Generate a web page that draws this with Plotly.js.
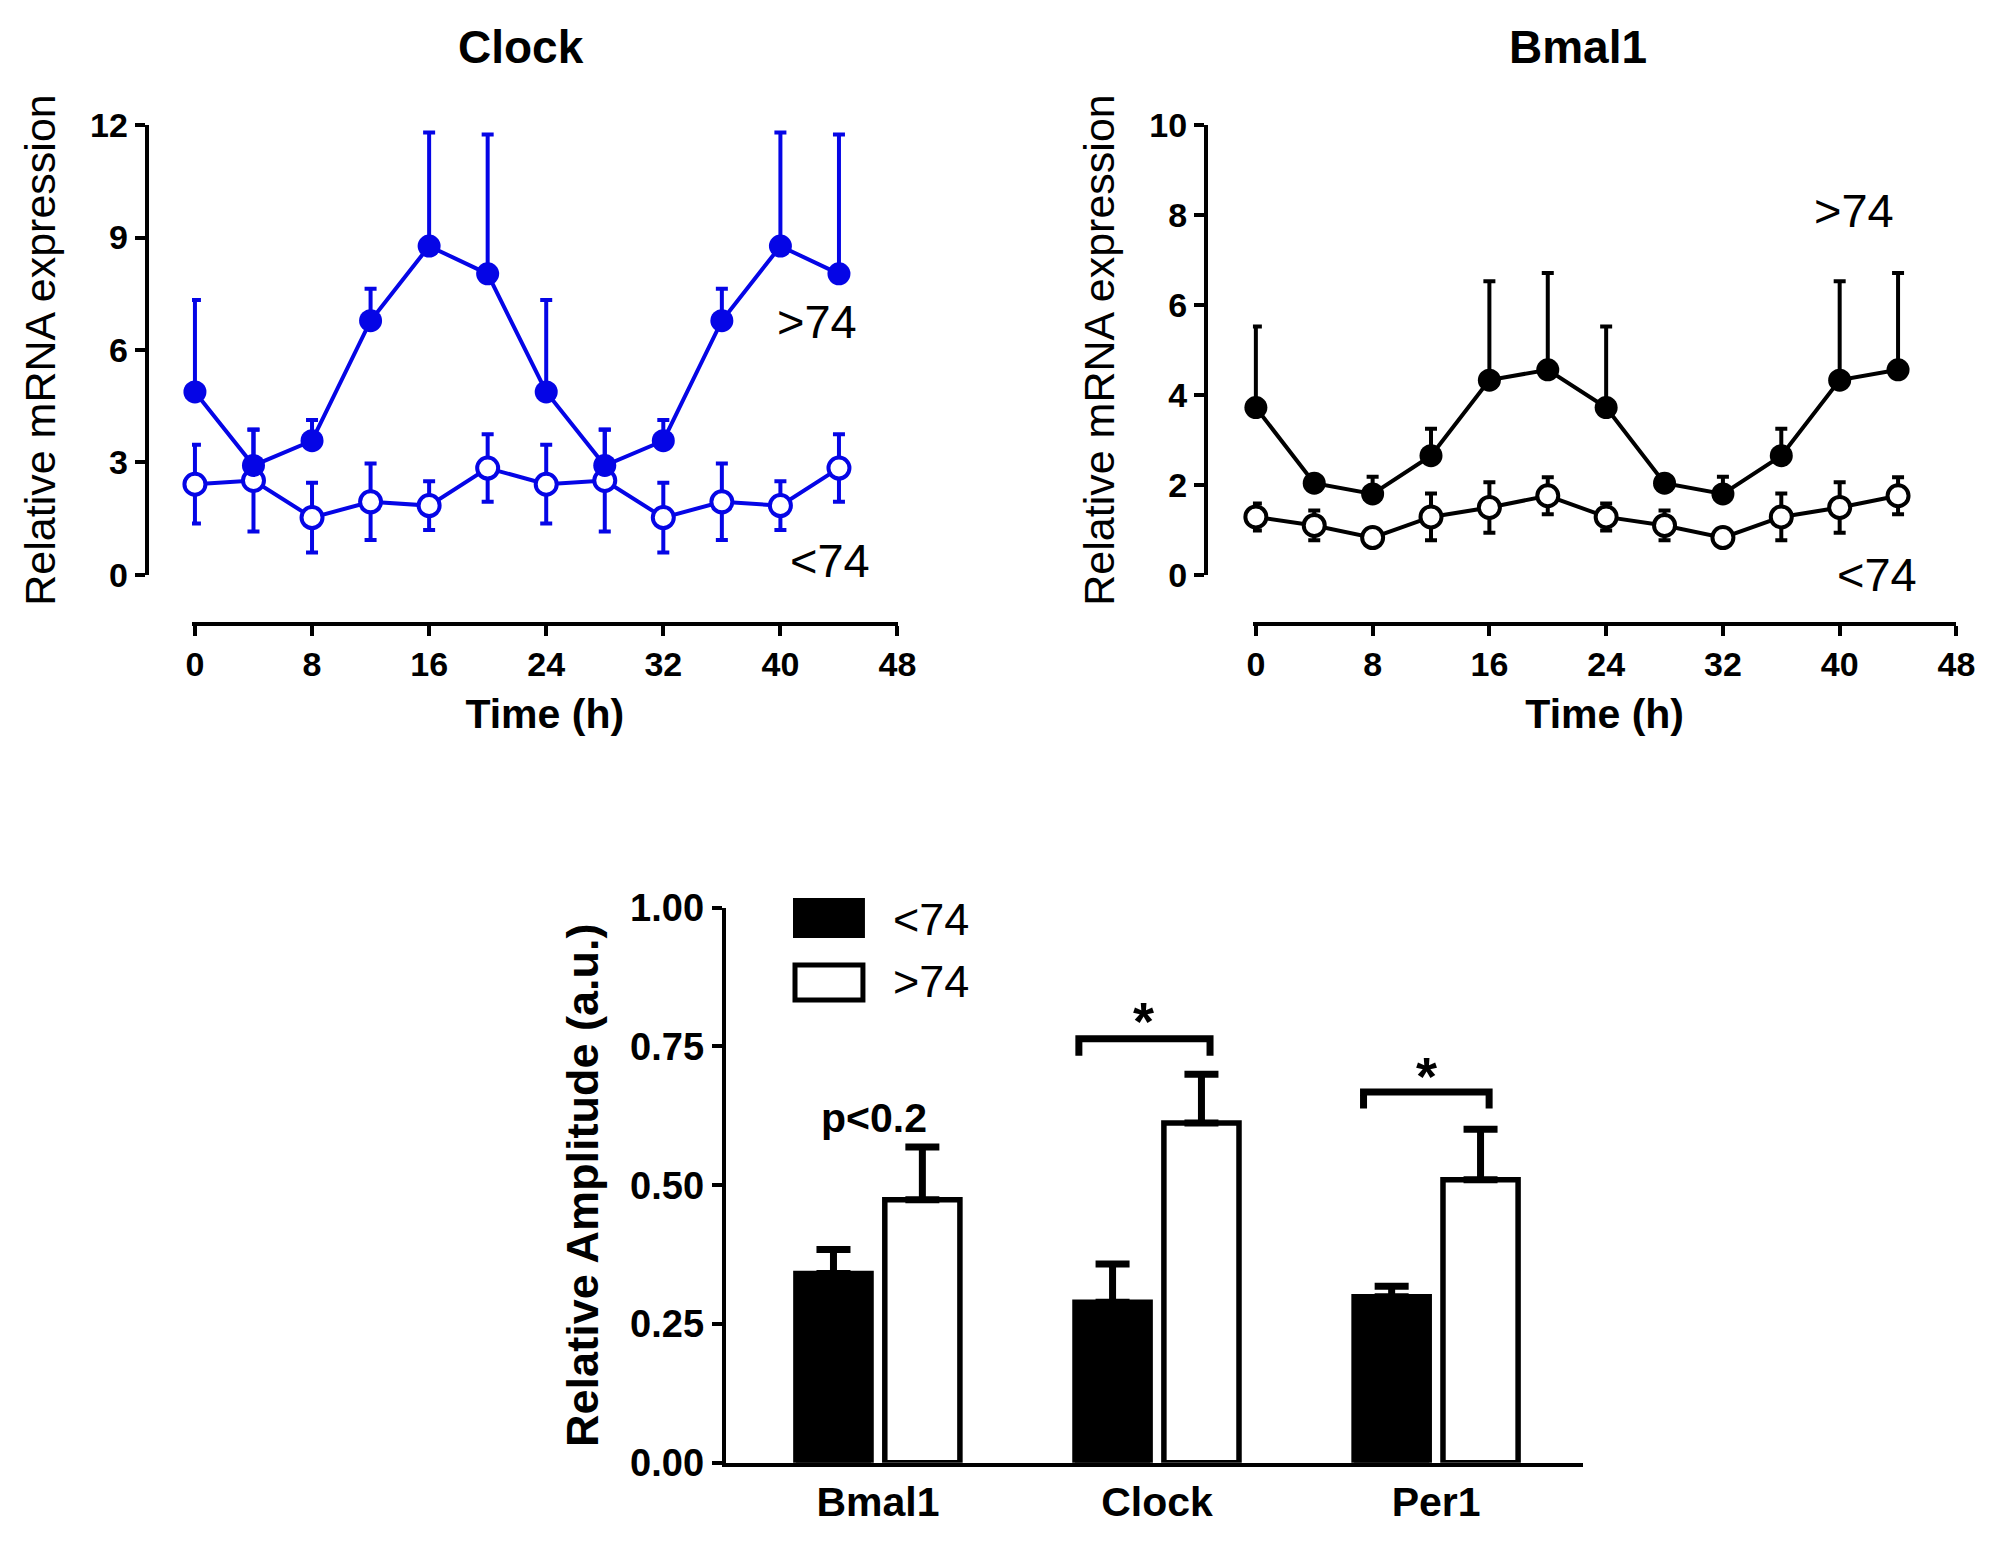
<!DOCTYPE html>
<html>
<head>
<meta charset="utf-8">
<script src="https://cdn.plot.ly/plotly-3.0.1.min.js"></script>
<style>
  html, body { margin: 0; padding: 0; background: #fff; }
  #graph { width: 1998px; height: 1551px; }
</style>
</head>
<body>
<div id="graph"></div>
<script>
// time points (h)
let hours = [0, 4, 8, 12, 16, 20, 24, 28, 32, 36, 40, 44];

// Clock, relative mRNA expression
let clock_old = [4.88, 2.92, 3.58, 6.78, 8.77, 8.03, 4.88, 2.92, 3.58, 6.78, 8.77, 8.03];
let clock_old_err = [2.45, 0.95, 0.55, 0.85, 3.03, 3.72, 2.45, 0.95, 0.55, 0.85, 3.03, 3.72];
let clock_young = [2.42, 2.52, 1.53, 1.95, 1.85, 2.85, 2.42, 2.52, 1.53, 1.95, 1.85, 2.85];
let clock_young_err = [1.05, 1.36, 0.93, 1.02, 0.65, 0.9, 1.05, 1.36, 0.93, 1.02, 0.65, 0.9];

// Bmal1, relative mRNA expression
let bmal_old = [3.72, 2.04, 1.8, 2.65, 4.33, 4.56, 3.72, 2.04, 1.8, 2.65, 4.33, 4.56];
let bmal_old_err = [1.8, 0.0, 0.38, 0.6, 2.2, 2.15, 1.8, 0.0, 0.38, 0.6, 2.2, 2.15];
let bmal_young = [1.29, 1.1, 0.83, 1.29, 1.5, 1.76, 1.29, 1.1, 0.83, 1.29, 1.5, 1.76];
let bmal_young_err = [0.3, 0.33, 0.1, 0.52, 0.56, 0.41, 0.3, 0.33, 0.1, 0.52, 0.56, 0.41];

// relative amplitude
let genes = ["Bmal1", "Clock", "Per1"];
let amp_young = [0.341, 0.289, 0.299];
let amp_young_err = [0.043, 0.069, 0.019];
let amp_old = [0.474, 0.612, 0.51];
let amp_old_err = [0.095, 0.088, 0.091];

let blue = "rgb(5,5,230)";
let font = "Liberation Sans, Arial, sans-serif";

function lineTrace(x, y, err, color, open, xa, ya, upOnly) {
  return {
    x: x, y: y, xaxis: xa, yaxis: ya,
    type: "scatter", mode: "lines+markers",
    cliponaxis: false,
    line: { color: color, width: 4 },
    marker: {
      size: open ? 21 : 23,
      color: open ? "#ffffff" : color,
      line: { color: color, width: open ? 4 : 0 },
    },
    error_y: upOnly
      ? { type: "data", symmetric: false, array: err, arrayminus: err.map(() => 0), color: color, thickness: 4, width: 6 }
      : { type: "data", array: err, color: color, thickness: 4, width: 6 },
    hoverinfo: "skip",
  };
}

let traces = [
  lineTrace(hours, clock_young, clock_young_err, blue, true, "x", "y", false),
  lineTrace(hours, clock_old, clock_old_err, blue, false, "x", "y", true),
  lineTrace(hours, bmal_young, bmal_young_err, "#000", true, "x2", "y2", false),
  lineTrace(hours, bmal_old, bmal_old_err, "#000", false, "x2", "y2", true),
  {
    x: genes, y: amp_young, xaxis: "x3", yaxis: "y3", type: "bar", name: "<74",
    marker: { color: "#000", line: { color: "#000", width: 5.5 } },
    error_y: { type: "data", symmetric: false, array: amp_young_err, arrayminus: [0, 0, 0], color: "#000", thickness: 7, width: 17 },
    hoverinfo: "skip",
  },
  {
    x: genes, y: amp_old, xaxis: "x3", yaxis: "y3", type: "bar", name: ">74",
    marker: { color: "#fff", line: { color: "#000", width: 5.5 } },
    error_y: { type: "data", symmetric: false, array: amp_old_err, arrayminus: [0, 0, 0], color: "#000", thickness: 7, width: 17 },
    hoverinfo: "skip",
  },
];

let tickFont = { family: font, size: 34, color: "#000", weight: "bold" };
let axBase = {
  showgrid: false, zeroline: false, showline: true, linecolor: "#000", linewidth: 4,
  ticks: "outside", ticklen: 10, tickwidth: 4, tickcolor: "#000",
  tickfont: tickFont, fixedrange: true,
};

// small pad left of 0 so the first error bar is not clipped
let timeAxis = (domain) => Object.assign({}, axBase, {
  domain: domain, range: [-0.2, 48], tickvals: [0, 8, 16, 24, 32, 40, 48],
  anchor: "free", position: 0.598,
  title: { text: "Time (h)", font: { family: font, size: 41, color: "#000", weight: "bold" }, standoff: 16 },
});
let exprAxis = (pos, range, dtick) => Object.assign({}, axBase, {
  domain: [0.6293, 0.9194], range: range, dtick: dtick,
  anchor: "free", position: pos,
  title: { text: "Relative mRNA expression", font: { family: font, size: 43, color: "#000" }, standoff: 20 },
});

function ann(text, x, y, size, bold, xref, yref, xanchor) {
  return {
    text: text, x: x, y: y, xref: xref || "paper", yref: yref || "paper",
    xanchor: xanchor || "center", yanchor: "middle", showarrow: false,
    font: { family: font, size: size, color: "#000", weight: bold ? "bold" : "normal" },
  };
}

let layout = {
  width: 1998, height: 1551,
  margin: { l: 0, r: 0, t: 0, b: 0 },
  paper_bgcolor: "#fff", plot_bgcolor: "rgba(0,0,0,0)",
  showlegend: false,
  xaxis: timeAxis([0.0961, 0.4492]),
  yaxis: exprAxis(0.0734, [0, 12], 3),
  xaxis2: timeAxis([0.6271, 0.9792]),
  yaxis2: exprAxis(0.6036, [0, 10], 2),
  xaxis3: Object.assign({}, axBase, {
    domain: [0.3632, 0.7921], type: "category", range: [-0.5455, 2.525],
    anchor: "y3", ticks: "", tickfont: { family: font, size: 41, color: "#000", weight: "bold" },
  }),
  yaxis3: Object.assign({}, axBase, {
    domain: [0.0569, 0.4148], range: [0, 1], tickvals: [0, 0.25, 0.5, 0.75, 1], tickformat: ".2f",
    anchor: "x3", tickfont: { family: font, size: 38, color: "#000", weight: "bold" },
    title: { text: "Relative Amplitude (a.u.)", font: { family: font, size: 45, color: "#000", weight: "bold" }, standoff: 18 },
  }),
  barmode: "group", bargap: 0.363, bargroupgap: 0.155,
  annotations: [
    ann("Clock", 0.261, 1 - 47 / 1551, 46, true),
    ann("Bmal1", 0.790, 1 - 47 / 1551, 46, true),
    ann(">74", 0.4089, 0.7924, 47, false),
    ann("<74", 0.4154, 0.6389, 47, false),
    ann(">74", 0.9279, 0.8646, 47, false),
    ann("<74", 0.9392, 0.6293, 47, false),
    ann("<74", 0.446, 0.4071, 45, false, "paper", "paper", "left"),
    ann(">74", 0.446, 0.3669, 45, false, "paper", "paper", "left"),
    ann("p<0.2", -0.015, 0.621, 41, true, "x3", "y3"),
    ann("*", 0.95, 0.795, 54, true, "x3", "y3"),
    ann("*", 1.965, 0.697, 54, true, "x3", "y3"),
  ],
  shapes: [
    // legend boxes
    { type: "rect", xref: "paper", yref: "paper", x0: 0.3979, x1: 0.4319, y0: 0.3965, y1: 0.4197,
      fillcolor: "#000", line: { color: "#000", width: 4 } },
    { type: "rect", xref: "paper", yref: "paper", x0: 0.3979, x1: 0.4319, y0: 0.3553, y1: 0.3778,
      fillcolor: "#fff", line: { color: "#000", width: 5 } },
    // significance brackets
    { type: "path", xref: "x3", yref: "y3", path: "M 0.72,0.733 L 0.72,0.764 L 1.19,0.764 L 1.19,0.733",
      line: { color: "#000", width: 7 } },
    { type: "path", xref: "x3", yref: "y3", path: "M 1.74,0.638 L 1.74,0.668 L 2.19,0.668 L 2.19,0.638",
      line: { color: "#000", width: 7 } },
  ],
};

Plotly.newPlot("graph", traces, layout, { staticPlot: true });
</script>
</body>
</html>
